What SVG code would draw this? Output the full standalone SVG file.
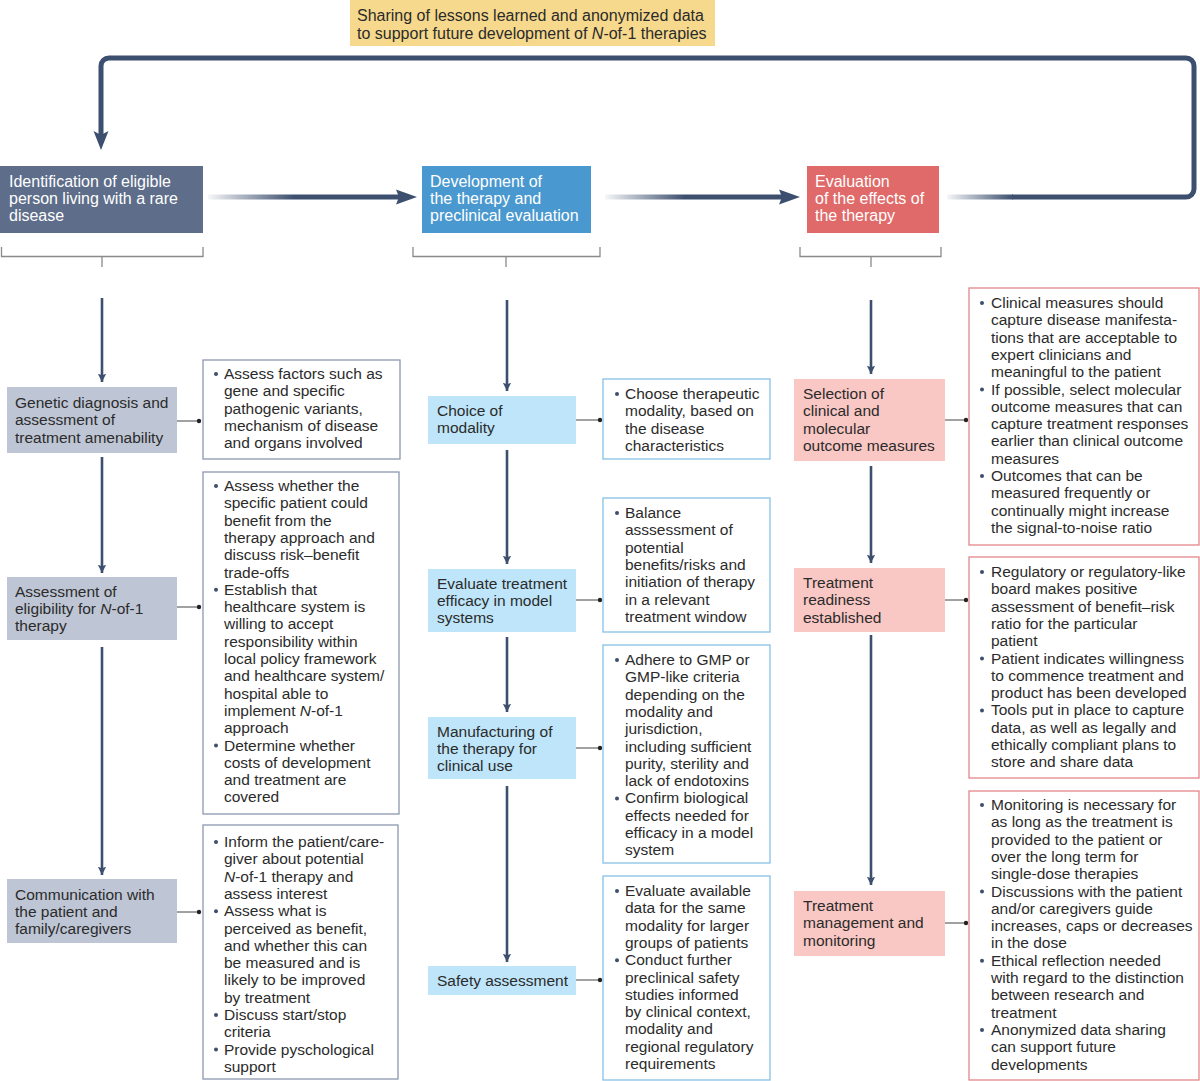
<svg xmlns="http://www.w3.org/2000/svg" width="1200" height="1081" viewBox="0 0 1200 1081">
<defs>
<style>
text{font-family:"Liberation Sans",Arial,sans-serif;font-size:15.5px;fill:#2b2b2b}
.w{fill:#ffffff}
.hd{font-size:16px}
.h1{fill:#5d6d8a}.h2{fill:#4a98d0}.h3{fill:#df6a69}
.s1{fill:#bec5d4}.s2{fill:#bee5f9}.s3{fill:#f9c7c4}
.b1{fill:#fff;stroke:#8d99b0;stroke-width:1.3}
.b2{fill:#fff;stroke:#87c0e6;stroke-width:1.3}
.b3{fill:#fff;stroke:#e3868a;stroke-width:1.3}
.v{stroke:#3c4f6e;stroke-width:2.6;fill:none}
.ah{fill:#3c4f6e}
.cn{stroke:#444;stroke-width:1;fill:none}
.dot{fill:#222}
.bd{fill:#3c4f6e}
.br{stroke:#8a8a8a;stroke-width:1.3;fill:none}
.it{font-style:italic}
</style>
<linearGradient id="fade" x1="0" y1="0" x2="1" y2="0">
<stop offset="0" stop-color="#3c4f6e" stop-opacity="0.05"/>
<stop offset="0.45" stop-color="#3c4f6e" stop-opacity="1"/>
<stop offset="1" stop-color="#3c4f6e" stop-opacity="1"/>
</linearGradient>
<linearGradient id="fade2" x1="0" y1="0" x2="1" y2="0">
<stop offset="0" stop-color="#3c4f6e" stop-opacity="0.05"/>
<stop offset="1" stop-color="#3c4f6e" stop-opacity="1"/>
</linearGradient>
<marker id="arr" viewBox="0 0 10 10" refX="10" refY="5" markerWidth="3.2" markerHeight="3.8" orient="auto" markerUnits="strokeWidth">
<path d="M0,0 L10,5 L0,10 L2,5 Z" fill="#3c4f6e"/>
</marker>
</defs>
<rect width="1200" height="1081" fill="#ffffff"/>

<g id="banner">
<rect x="350" y="0" width="365" height="46" fill="#f6d98c"/>
<text class="hd" x="357" y="20.5">Sharing of lessons learned and anonymized data</text>
<text class="hd" x="357" y="38.5">to support future development of <tspan class="it">N</tspan>-of-1 therapies</text>
</g>

<g id="connectors">
<rect x="208" y="194.5" width="192" height="5" fill="url(#fade)"/>
<path d="M396,189.5 L417,197 L396,204.5 L399,197 Z" class="ah"/>
<rect x="605" y="194.5" width="178" height="5" fill="url(#fade)"/>
<path d="M779,189.5 L800,197 L779,204.5 L782,197 Z" class="ah"/>
<rect x="947" y="194.5" width="66" height="5" fill="url(#fade2)"/>
<path d="M1012,197 H1186 A8,8 0 0 0 1194,189 V66 A8,8 0 0 0 1186,58 H109 A8,8 0 0 0 101,66 V136" stroke="#3c4f6e" stroke-width="5" fill="none"/>
<path d="M93.5,131 L101,150 L108.5,131 L101,135 Z" class="ah"/>

<path class="br" d="M1.5,247 V256.5 H203 V247 M102,256.5 V267"/>
<path class="br" d="M413,247 V256.5 H600 V247 M506,256.5 V267"/>
<path class="br" d="M800,247 V256.5 H941 V247 M871,256.5 V267"/>

<line class="v" x1="102" y1="298" x2="102" y2="382" marker-end="url(#arr)"/>
<line class="v" x1="102" y1="457" x2="102" y2="573" marker-end="url(#arr)"/>
<line class="v" x1="102" y1="647" x2="102" y2="875" marker-end="url(#arr)"/>
<line class="v" x1="507" y1="300" x2="507" y2="391" marker-end="url(#arr)"/>
<line class="v" x1="507" y1="450" x2="507" y2="564" marker-end="url(#arr)"/>
<line class="v" x1="507" y1="637" x2="507" y2="712" marker-end="url(#arr)"/>
<line class="v" x1="507" y1="786" x2="507" y2="962" marker-end="url(#arr)"/>
<line class="v" x1="871" y1="300" x2="871" y2="374" marker-end="url(#arr)"/>
<line class="v" x1="871" y1="466" x2="871" y2="563" marker-end="url(#arr)"/>
<line class="v" x1="871" y1="635" x2="871" y2="885" marker-end="url(#arr)"/>

<line class="cn" x1="177" y1="421" x2="199" y2="421"/><circle class="dot" cx="199" cy="421" r="2.2"/>
<line class="cn" x1="177" y1="607" x2="199" y2="607"/><circle class="dot" cx="199" cy="607" r="2.2"/>
<line class="cn" x1="177" y1="912" x2="199" y2="912"/><circle class="dot" cx="199" cy="912" r="2.2"/>
<line class="cn" x1="576" y1="420" x2="600" y2="420"/><circle class="dot" cx="600" cy="420" r="2.2"/>
<line class="cn" x1="576" y1="600" x2="600" y2="600"/><circle class="dot" cx="600" cy="600" r="2.2"/>
<line class="cn" x1="576" y1="748" x2="600" y2="748"/><circle class="dot" cx="600" cy="748" r="2.2"/>
<line class="cn" x1="576" y1="980" x2="600" y2="980"/><circle class="dot" cx="600" cy="980" r="2.2"/>
<line class="cn" x1="945" y1="420" x2="966" y2="420"/><circle class="dot" cx="966" cy="420" r="2.2"/>
<line class="cn" x1="945" y1="600" x2="966" y2="600"/><circle class="dot" cx="966" cy="600" r="2.2"/>
<line class="cn" x1="945" y1="923" x2="966" y2="923"/><circle class="dot" cx="966" cy="923" r="2.2"/>
</g>

<g id="head-identification">
<rect class="h1" x="0" y="166" width="203" height="67"/>
<text class="w hd" x="9" y="186.5">Identification of eligible</text>
<text class="w hd" x="9" y="203.8">person living with a rare</text>
<text class="w hd" x="9" y="221.1">disease</text>
</g>
<g id="head-development">
<rect class="h2" x="422" y="166" width="169" height="67"/>
<text class="w hd" x="430" y="186.5">Development of</text>
<text class="w hd" x="430" y="203.8">the therapy and</text>
<text class="w hd" x="430" y="221.1">preclinical evaluation</text>
</g>
<g id="head-evaluation">
<rect class="h3" x="807" y="166" width="132" height="67"/>
<text class="w hd" x="815" y="186.5">Evaluation</text>
<text class="w hd" x="815" y="203.8">of the effects of</text>
<text class="w hd" x="815" y="221.1">the therapy</text>
</g>

<g id="genetic-diagnosis">
<rect class="s1" x="7" y="387" width="170" height="66"/>
<text x="15" y="408">Genetic diagnosis and</text>
<text x="15" y="425.3">assessment of</text>
<text x="15" y="442.6">treatment amenability</text>
</g>
<g id="genetic-diagnosis-notes">
<rect class="b1" x="203" y="360" width="197" height="99"/>
<circle class="bd" cx="216" cy="374" r="2"/>
<text x="224" y="379"><tspan x="224">Assess factors such as</tspan><tspan x="224" dy="17.3">gene and specific</tspan><tspan x="224" dy="17.3">pathogenic variants,</tspan><tspan x="224" dy="17.3">mechanism of disease</tspan><tspan x="224" dy="17.3">and organs involved</tspan></text>
</g>

<g id="eligibility">
<rect class="s1" x="7" y="577" width="170" height="63"/>
<text x="15" y="596.5">Assessment of</text>
<text x="15" y="613.8">eligibility for <tspan class="it">N</tspan>-of-1</text>
<text x="15" y="631.1">therapy</text>
</g>
<g id="eligibility-notes">
<rect class="b1" x="203" y="472" width="196" height="342"/>
<circle class="bd" cx="216" cy="486" r="2"/>
<circle class="bd" cx="216" cy="589.8" r="2"/>
<circle class="bd" cx="216" cy="745.5" r="2"/>
<text x="224" y="491"><tspan x="224">Assess whether the</tspan><tspan x="224" dy="17.3">specific patient could</tspan><tspan x="224" dy="17.3">benefit from the</tspan><tspan x="224" dy="17.3">therapy approach and</tspan><tspan x="224" dy="17.3">discuss risk–benefit</tspan><tspan x="224" dy="17.3">trade-offs</tspan><tspan x="224" dy="17.3">Establish that</tspan><tspan x="224" dy="17.3">healthcare system is</tspan><tspan x="224" dy="17.3">willing to accept</tspan><tspan x="224" dy="17.3">responsibility within</tspan><tspan x="224" dy="17.3">local policy framework</tspan><tspan x="224" dy="17.3">and healthcare system/</tspan><tspan x="224" dy="17.3">hospital able to</tspan><tspan x="224" dy="17.3">implement <tspan class="it">N</tspan>-of-1</tspan><tspan x="224" dy="17.3">approach</tspan><tspan x="224" dy="17.3">Determine whether</tspan><tspan x="224" dy="17.3">costs of development</tspan><tspan x="224" dy="17.3">and treatment are</tspan><tspan x="224" dy="17.3">covered</tspan></text>
</g>

<g id="communication">
<rect class="s1" x="7" y="879" width="170" height="64"/>
<text x="15" y="899.5">Communication with</text>
<text x="15" y="916.8">the patient and</text>
<text x="15" y="934.1">family/caregivers</text>
</g>
<g id="communication-notes">
<rect class="b1" x="203" y="825" width="195" height="254"/>
<circle class="bd" cx="216" cy="842" r="2"/>
<circle class="bd" cx="216" cy="911.2" r="2"/>
<circle class="bd" cx="216" cy="1015" r="2"/>
<circle class="bd" cx="216" cy="1049.6" r="2"/>
<text x="224" y="847"><tspan x="224">Inform the patient/care-</tspan><tspan x="224" dy="17.3">giver about potential</tspan><tspan x="224" dy="17.3"><tspan class="it">N</tspan>-of-1 therapy and</tspan><tspan x="224" dy="17.3">assess interest</tspan><tspan x="224" dy="17.3">Assess what is</tspan><tspan x="224" dy="17.3">perceived as benefit,</tspan><tspan x="224" dy="17.3">and whether this can</tspan><tspan x="224" dy="17.3">be measured and is</tspan><tspan x="224" dy="17.3">likely to be improved</tspan><tspan x="224" dy="17.3">by treatment</tspan><tspan x="224" dy="17.3">Discuss start/stop</tspan><tspan x="224" dy="17.3">criteria</tspan><tspan x="224" dy="17.3">Provide pyschological</tspan><tspan x="224" dy="17.3">support</tspan></text>
</g>

<g id="choice-modality">
<rect class="s2" x="428" y="396" width="148" height="48"/>
<text x="437" y="416">Choice of</text>
<text x="437" y="433.3">modality</text>
</g>
<g id="choice-modality-notes">
<rect class="b2" x="603" y="379" width="167" height="80"/>
<circle class="bd" cx="617" cy="394" r="2"/>
<text x="625" y="399"><tspan x="625">Choose therapeutic</tspan><tspan x="625" dy="17.3">modality, based on</tspan><tspan x="625" dy="17.3">the disease</tspan><tspan x="625" dy="17.3">characteristics</tspan></text>
</g>

<g id="efficacy">
<rect class="s2" x="428" y="569" width="148" height="63"/>
<text x="437" y="588.5">Evaluate treatment</text>
<text x="437" y="605.8">efficacy in model</text>
<text x="437" y="623.1">systems</text>
</g>
<g id="efficacy-notes">
<rect class="b2" x="603" y="498" width="167" height="134"/>
<circle class="bd" cx="617" cy="513" r="2"/>
<text x="625" y="518"><tspan x="625">Balance</tspan><tspan x="625" dy="17.3">asssessment of</tspan><tspan x="625" dy="17.3">potential</tspan><tspan x="625" dy="17.3">benefits/risks and</tspan><tspan x="625" dy="17.3">initiation of therapy</tspan><tspan x="625" dy="17.3">in a relevant</tspan><tspan x="625" dy="17.3">treatment window</tspan></text>
</g>

<g id="manufacturing">
<rect class="s2" x="428" y="717" width="148" height="62"/>
<text x="437" y="736.5">Manufacturing of</text>
<text x="437" y="753.8">the therapy for</text>
<text x="437" y="771.1">clinical use</text>
</g>
<g id="manufacturing-notes">
<rect class="b2" x="603" y="645" width="167" height="218"/>
<circle class="bd" cx="617" cy="660" r="2"/>
<circle class="bd" cx="617" cy="798.4" r="2"/>
<text x="625" y="665"><tspan x="625">Adhere to GMP or</tspan><tspan x="625" dy="17.3">GMP-like criteria</tspan><tspan x="625" dy="17.3">depending on the</tspan><tspan x="625" dy="17.3">modality and</tspan><tspan x="625" dy="17.3">jurisdiction,</tspan><tspan x="625" dy="17.3">including sufficient</tspan><tspan x="625" dy="17.3">purity, sterility and</tspan><tspan x="625" dy="17.3">lack of endotoxins</tspan><tspan x="625" dy="17.3">Confirm biological</tspan><tspan x="625" dy="17.3">effects needed for</tspan><tspan x="625" dy="17.3">efficacy in a model</tspan><tspan x="625" dy="17.3">system</tspan></text>
</g>

<g id="safety">
<rect class="s2" x="428" y="966" width="148" height="29"/>
<text x="437" y="985.5">Safety assessment</text>
</g>
<g id="safety-notes">
<rect class="b2" x="603" y="876" width="167" height="204"/>
<circle class="bd" cx="617" cy="891" r="2"/>
<circle class="bd" cx="617" cy="960.2" r="2"/>
<text x="625" y="896"><tspan x="625">Evaluate available</tspan><tspan x="625" dy="17.3">data for the same</tspan><tspan x="625" dy="17.3">modality for larger</tspan><tspan x="625" dy="17.3">groups of patients</tspan><tspan x="625" dy="17.3">Conduct further</tspan><tspan x="625" dy="17.3">preclinical safety</tspan><tspan x="625" dy="17.3">studies informed</tspan><tspan x="625" dy="17.3">by clinical context,</tspan><tspan x="625" dy="17.3">modality and</tspan><tspan x="625" dy="17.3">regional regulatory</tspan><tspan x="625" dy="17.3">requirements</tspan></text>
</g>

<g id="outcome-measures">
<rect class="s3" x="794" y="379" width="151" height="82"/>
<text x="803" y="399">Selection of</text>
<text x="803" y="416.3">clinical and</text>
<text x="803" y="433.6">molecular</text>
<text x="803" y="450.9">outcome measures</text>
</g>
<g id="outcome-measures-notes">
<rect class="b3" x="969" y="288" width="230" height="257"/>
<circle class="bd" cx="982" cy="303" r="2"/>
<circle class="bd" cx="982" cy="389.5" r="2"/>
<circle class="bd" cx="982" cy="476" r="2"/>
<text x="991" y="308"><tspan x="991">Clinical measures should</tspan><tspan x="991" dy="17.3">capture disease manifesta-</tspan><tspan x="991" dy="17.3">tions that are acceptable to</tspan><tspan x="991" dy="17.3">expert clinicians and</tspan><tspan x="991" dy="17.3">meaningful to the patient</tspan><tspan x="991" dy="17.3">If possible, select molecular</tspan><tspan x="991" dy="17.3">outcome measures that can</tspan><tspan x="991" dy="17.3">capture treatment responses</tspan><tspan x="991" dy="17.3">earlier than clinical outcome</tspan><tspan x="991" dy="17.3">measures</tspan><tspan x="991" dy="17.3">Outcomes that can be</tspan><tspan x="991" dy="17.3">measured frequently or</tspan><tspan x="991" dy="17.3">continually might increase</tspan><tspan x="991" dy="17.3">the signal-to-noise ratio</tspan></text>
</g>

<g id="treatment-readiness">
<rect class="s3" x="794" y="568" width="151" height="64"/>
<text x="803" y="588">Treatment</text>
<text x="803" y="605.3">readiness</text>
<text x="803" y="622.6">established</text>
</g>
<g id="treatment-readiness-notes">
<rect class="b3" x="969" y="557" width="230" height="221"/>
<circle class="bd" cx="982" cy="572" r="2"/>
<circle class="bd" cx="982" cy="658.5" r="2"/>
<circle class="bd" cx="982" cy="710.4" r="2"/>
<text x="991" y="577"><tspan x="991">Regulatory or regulatory-like</tspan><tspan x="991" dy="17.3">board makes positive</tspan><tspan x="991" dy="17.3">assessment of benefit–risk</tspan><tspan x="991" dy="17.3">ratio for the particular</tspan><tspan x="991" dy="17.3">patient</tspan><tspan x="991" dy="17.3">Patient indicates willingness</tspan><tspan x="991" dy="17.3">to commence treatment and</tspan><tspan x="991" dy="17.3">product has been developed</tspan><tspan x="991" dy="17.3">Tools put in place to capture</tspan><tspan x="991" dy="17.3">data, as well as legally and</tspan><tspan x="991" dy="17.3">ethically compliant plans to</tspan><tspan x="991" dy="17.3">store and share data</tspan></text>
</g>

<g id="treatment-management">
<rect class="s3" x="794" y="891" width="151" height="65"/>
<text x="803" y="911">Treatment</text>
<text x="803" y="928.3">management and</text>
<text x="803" y="945.6">monitoring</text>
</g>
<g id="treatment-management-notes">
<rect class="b3" x="969" y="791" width="230" height="289"/>
<circle class="bd" cx="982" cy="805" r="2"/>
<circle class="bd" cx="982" cy="891.5" r="2"/>
<circle class="bd" cx="982" cy="960.7" r="2"/>
<circle class="bd" cx="982" cy="1029.9" r="2"/>
<text x="991" y="810"><tspan x="991">Monitoring is necessary for</tspan><tspan x="991" dy="17.3">as long as the treatment is</tspan><tspan x="991" dy="17.3">provided to the patient or</tspan><tspan x="991" dy="17.3">over the long term for</tspan><tspan x="991" dy="17.3">single-dose therapies</tspan><tspan x="991" dy="17.3">Discussions with the patient</tspan><tspan x="991" dy="17.3">and/or caregivers guide</tspan><tspan x="991" dy="17.3">increases, caps or decreases</tspan><tspan x="991" dy="17.3">in the dose</tspan><tspan x="991" dy="17.3">Ethical reflection needed</tspan><tspan x="991" dy="17.3">with regard to the distinction</tspan><tspan x="991" dy="17.3">between research and</tspan><tspan x="991" dy="17.3">treatment</tspan><tspan x="991" dy="17.3">Anonymized data sharing</tspan><tspan x="991" dy="17.3">can support future</tspan><tspan x="991" dy="17.3">developments</tspan></text>
</g>
</svg>
